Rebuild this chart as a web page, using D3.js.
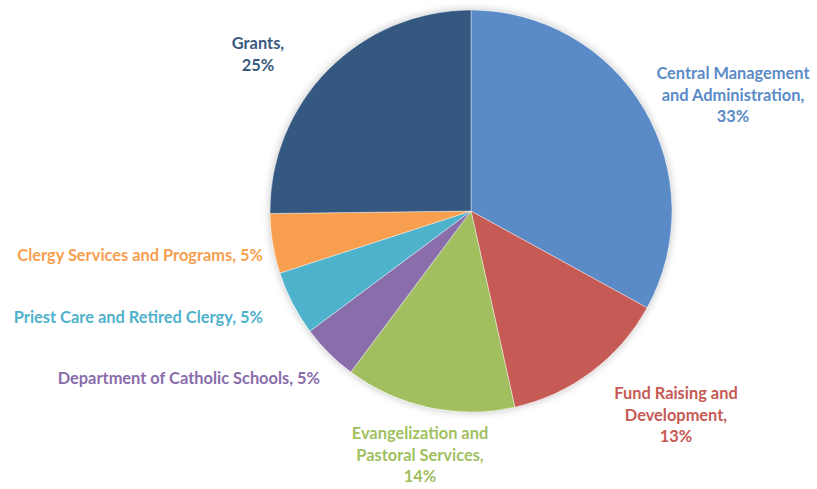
<!DOCTYPE html>
<meta charset="utf-8">
<style>
body{ margin:0; background:#fff; }
text{ font-family: Lato, "Open Sans", sans-serif; font-weight:700; font-size:16.4px; }
</style>
<body>
<script src="https://cdn.jsdelivr.net/npm/d3@7"></script>
<svg id="chart" width="817" height="489"></svg>
<script>
// ---- data ----
var categories = ["Central Management and Administration", "Fund Raising and Development",
    "Evangelization and Pastoral Services", "Department of Catholic Schools",
    "Priest Care and Retired Clergy", "Clergy Services and Programs", "Grants"];
var values = [33.0, 13.5, 13.7, 4.6, 5.2, 4.8, 25.2];
var pctLabels = ["33%", "13%", "14%", "5%", "5%", "5%", "25%"];
// label lines as wrapped in the picture
var labelLines = [
    ["Central Management", "and Administration,", "33%"],
    ["Fund Raising and", "Development,", "13%"],
    ["Evangelization and", "Pastoral Services,", "14%"],
    ["Department of Catholic Schools, 5%"],
    ["Priest Care and Retired Clergy, 5%"],
    ["Clergy Services and Programs, 5%"],
    ["Grants,", "25%"]
];

var sliceColor = ["#5b8bc6", "#c65a55", "#a1bf5f", "#8a6dab", "#4fb2cc", "#f79f4f", "#355880"];
var textColor = ["#5b8bc6", "#c65a55", "#a1bf5f", "#8a6dab", "#4fb2cc", "#f79f4f", "#3b5a80"];

// label anchor spots (x, first baseline, anchor)
var labelPos = [
    [733, 79, "middle"], [676, 399, "middle"], [420, 439, "middle"],
    [320, 384, "end"], [263, 323, "end"], [263, 261, "end"], [258, 49, "middle"]
];

var svg = d3.select("#chart");
var cx = 471, cy = 211, r = 201;

var defs = svg.append("defs");
var f = defs.append("filter").attr("id", "shadow").attr("x", "-10%").attr("y", "-10%").attr("width", "120%").attr("height", "120%");
f.append("feGaussianBlur").attr("in", "SourceAlpha").attr("stdDeviation", 4);
f.append("feOffset").attr("dx", 0).attr("dy", 0).attr("result", "b");
f.append("feComponentTransfer").append("feFuncA").attr("type", "linear").attr("slope", 0.25);
var m = f.append("feMerge");
m.append("feMergeNode");
m.append("feMergeNode").attr("in", "SourceGraphic");

var pie = d3.pie().sort(null).value(d => d);
var arc = d3.arc().innerRadius(0).outerRadius(r);

var g = svg.append("g").attr("transform", "translate(" + cx + "," + cy + ")");

g.append("circle").attr("r", r).attr("fill", "#fff").attr("filter", "url(#shadow)");

g.selectAll("path.slice")
    .data(pie(values))
    .enter().append("path")
    .attr("class", "slice")
    .attr("d", arc)
    .attr("fill", (d, i) => sliceColor[i])
    .attr("stroke", "#fff")
    .attr("stroke-width", 0.4);

// labels
categories.forEach(function(c, i) {
    var p = labelPos[i];
    var t = svg.append("text")
        .attr("x", p[0]).attr("y", p[1])
        .attr("text-anchor", p[2])
        .attr("fill", textColor[i]);
    labelLines[i].forEach(function(line, j) {
        t.append("tspan").attr("x", p[0]).attr("dy", j == 0 ? 0 : 21.5).text(line);
    });
});
</script>
</body>
